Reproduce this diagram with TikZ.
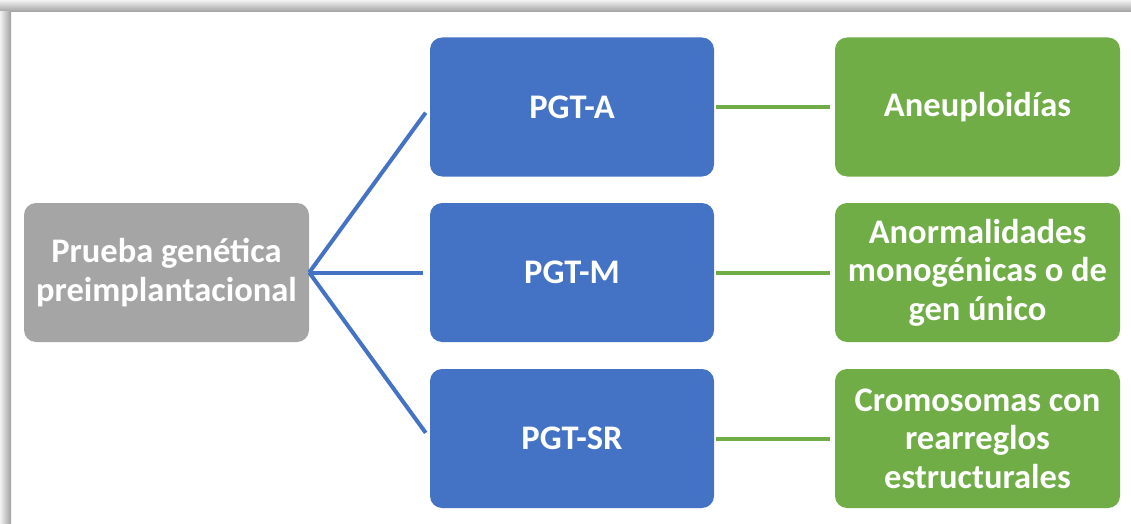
\documentclass[tikz,border=0pt]{standalone}
\usepackage{fontspec}
\setmainfont{Carlito}
\usepackage{tikz}

\definecolor{pgtblue}{HTML}{4472C4}
\definecolor{pgtgreen}{HTML}{70AD47}
\definecolor{pgtgray}{HTML}{A5A5A5}

\tikzset{
  box/.style={rounded corners=12pt, minimum width=284pt, minimum height=139pt,
    align=center, text=white, font=\fontsize{34.5}{38.5}\selectfont\bfseries, inner sep=2pt},
  graybox/.style={box, fill=pgtgray, minimum width=285pt},
  bluebox/.style={box, fill=pgtblue},
  greenbox/.style={box, fill=pgtgreen, minimum width=285pt}
}

\begin{document}
\begin{tikzpicture}[
    x=1pt, y=-1pt]
      \useasboundingbox (0,0) rectangle (1131,524);

      % frame
      \shade[top color=gray!10, bottom color=gray!75] (0,0) rectangle (1131,12);
      \shade[left color=gray!10, right color=gray!75] (0,12) rectangle (11,524);

      \node[graybox] (prueba) at (166.5,272.5) {Prueba genética\\preimplantacional};

      \node[bluebox] (pgta)  at (572,107)   {PGT-A};
      \node[bluebox] (pgtm)  at (572,272.5) {PGT-M};
      \node[bluebox] (pgtsr) at (572,438.5) {PGT-SR};

      \node[greenbox] (aneu)  at (977.5,107)   {Aneuploidías};
      \node[greenbox] (anorm) at (977.5,272.5) {Anormalidades\\monogénicas o de\\gen único};
      \node[greenbox] (cromo) at (977.5,438.5) {Cromosomas con\\rearreglos\\estructurales};

      \foreach \p in {pgta, pgtm, pgtsr}
        \draw[pgtblue, line width=4pt, shorten >=7pt] (prueba.east) -- (\p.west);

      \draw[pgtgreen, line width=4pt, shorten <=2pt, shorten >=5pt] (pgta.east) -- (aneu.west);
      \draw[pgtgreen, line width=4pt, shorten <=2pt, shorten >=5pt] (pgtm.east) -- (anorm.west);
      \draw[pgtgreen, line width=4pt, shorten <=2pt, shorten >=5pt] (pgtsr.east) -- (cromo.west);

    \end{tikzpicture}
\end{document}
